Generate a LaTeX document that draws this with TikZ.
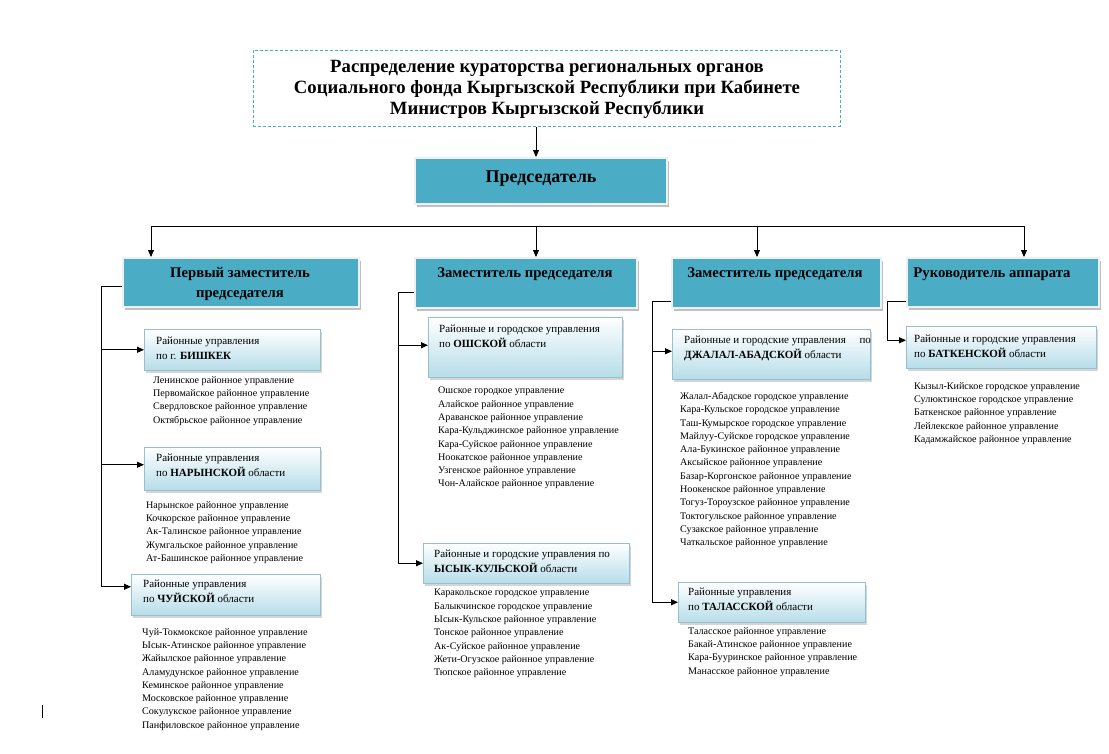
\documentclass[tikz,border=0pt]{standalone}
\usepackage{fontspec}
\setmainfont{Liberation Serif}
\usetikzlibrary{arrows.meta,shadows}
\definecolor{teal1}{RGB}{75,172,198}
\definecolor{subblue}{RGB}{182,221,233}
\definecolor{subedge}{RGB}{150,192,208}
\begin{document}
\begin{tikzpicture}[x=1pt,y=-1pt,
  line/.style={draw=black, line width=0.9pt},
  arr/.style={line, -{Triangle[length=7pt,width=6pt]}},
  titlebox/.style={draw=teal1, line width=0.7pt, dash pattern=on 3pt off 2pt, anchor=north west, inner sep=0pt},
  depbox/.style={fill=teal1, draw=gray!12, line width=1.5pt, anchor=north west, inner sep=0pt,
     drop shadow={shadow xshift=2.5pt, shadow yshift=-3pt, fill=gray!70, opacity=0.7}},
  subbox/.style={top color=white, bottom color=subblue, draw=subedge, line width=0.5pt, anchor=north west, inner sep=0pt,
     drop shadow={shadow xshift=1.5pt, shadow yshift=-2.5pt, fill=gray!55, opacity=0.6}},
  titletext/.style={font=\fontsize{18.7}{21}\selectfont\bfseries, align=center},
  deptext/.style={font=\fontsize{14.7}{19.5}\selectfont\bfseries, align=center},
  subtext/.style={font=\fontsize{11}{15}\selectfont, align=left, anchor=north west, inner sep=0pt},
  listtext/.style={font=\fontsize{10.1}{13.3}\selectfont, align=left, anchor=north west, inner sep=0pt},
]
\useasboundingbox[fill=white] (0,0) rectangle (1109,753);

% title and chairman
\node[titlebox, minimum width=587pt, minimum height=76pt] (title) at (253,50) {};
\node[titletext] (titlet) at (547,89) {Распределение кураторства региональных органов\\Социального фонда Кыргызской Республики при Кабинете\\Министров Кыргызской Республики};
\node[depbox, minimum width=252pt, minimum height=46pt] (chair) at (414,157) {};
\node[font=\fontsize{18}{20}\selectfont\bfseries] (chairt) at (541,179) {Председатель};

\coordinate (ta) at (536,0);
\draw[arr] (title.south -| ta) -- (chair.north -| ta);

% deputies
\node[depbox, minimum width=236pt, minimum height=49pt] (dep1) at (122,257) {};
\node[depbox, minimum width=222pt, minimum height=50pt] (dep2) at (414,257) {};
\node[depbox, minimum width=209pt, minimum height=50pt] (dep3) at (671,257) {};
\node[depbox, minimum width=192pt, minimum height=49pt] (dep4) at (906,257) {};
\node[deptext] (dep1t) at (240,284) {Первый заместитель\\председателя};
\node[deptext] (dep2t) at (525,274) {Заместитель председателя};
\node[deptext] (dep3t) at (775,274) {Заместитель председателя};
\node[deptext] (dep4t) at (992,274) {Руководитель аппарата};

\coordinate (h1) at (151,226);
\coordinate (h2) at (536,226);
\coordinate (h3) at (757,226);
\coordinate (h4) at (1024,226);
\draw[line] (h1) -- (h4);
\draw[arr] (h1) -- (h1 |- dep1.north);
\draw[arr] (h2) -- (h2 |- dep2.north);
\draw[arr] (h3) -- (h3 |- dep3.north);
\draw[arr] (h4) -- (h4 |- dep4.north);

% sub boxes
\node[subbox, minimum width=176pt, minimum height=41pt] (bish) at (144,329) {};
\node[subbox, minimum width=176pt, minimum height=43pt] (nar) at (144,447) {};
\node[subbox, minimum width=189pt, minimum height=41pt] (chuy) at (131,574) {};
\node[subbox, minimum width=194pt, minimum height=60pt] (osh) at (428,317) {};
\node[subbox, minimum width=206pt, minimum height=40pt] (issyk) at (423,543) {};
\node[subbox, minimum width=198pt, minimum height=50pt] (jal) at (672,329) {};
\node[subbox, minimum width=187pt, minimum height=40pt] (tal) at (678,582) {};
\node[subbox, minimum width=190pt, minimum height=42pt] (bat) at (906,326) {};

\node[subtext] (bisht) at (156,337) {Районные управления\\по г. \textbf{БИШКЕК}};
\node[subtext] (nart) at (156,454) {Районные управления\\по \textbf{НАРЫНСКОЙ} области};
\node[subtext] (chuyt) at (143,580) {Районные управления\\по \textbf{ЧУЙСКОЙ} области};
\node[subtext] (osht) at (439,325) {Районные и городское управления\\по \textbf{ОШСКОЙ} области};
\node[subtext] (issykt) at (434,550) {Районные и городские управления по\\\textbf{ЫСЫК-КУЛЬСКОЙ} области};
\node[subtext] (jalt) at (684,336) {Районные и городские управления\quad\ по\\\textbf{ДЖАЛАЛ-АБАДСКОЙ} области};
\node[subtext] (talt) at (688,588) {Районные управления\\по \textbf{ТАЛАССКОЙ} области};
\node[subtext] (batt) at (914,335) {Районные и городские управления\\по \textbf{БАТКЕНСКОЙ} области};

% lists
\node[listtext] (bishl) at (153,376) {Ленинское районное управление\\Первомайское районное управление\\Свердловское районное управление\\Октябрьское районное управление};
\node[listtext] (narl) at (146,501) {Нарынское районное управление\\Кочкорское районное  управление\\Ак-Талинское районное  управление\\Жумгальское районное управление\\Ат-Башинское районное управление};
\node[listtext] (chuyl) at (142,628) {Чуй-Токмокское районное управление\\Ысык-Атинское районное управление\\Жайылское районное управление\\Аламудунское районное управление\\Кеминское районное управление\\Московское районное управление\\Сокулукское районное управление\\Панфиловское районное управление};
\node[listtext] (oshl) at (438,387) {Ошское городкое управление\\Алайское районное управление\\Араванское районное управление\\Кара-Кульджинское районное управление\\Кара-Суйское районное управление\\Ноокатское районное управление\\Узгенское районное управление\\Чон-Алайское районное управление};
\node[listtext] (issykl) at (434,589) {Каракольское городское управление\\Балыкчинское городское управление\\Ысык-Кульское районное управление\\Тонское районное управление\\Ак-Суйское районное управление\\Жети-Огузское районное управление\\Тюпское районное управление};
\node[listtext] (jall) at (680,392) {Жалал-Абадское городское управление\\Кара-Кульское городское управление\\Таш-Кумырское городское управление\\Майлуу-Суйское городское управление\\Ала-Букинское районное управление\\Аксыйское районное управление\\Базар-Коргонское районное управление\\Ноокенское районное управление\\Тогуз-Тороузское районное управление\\Токтогульское районное управление\\Сузакское районное управление\\Чаткальское районное управление};
\node[listtext] (tall) at (688,627) {Таласское районное управление\\Бакай-Атинское районное управление\\Кара-Бууринское районное управление\\Манасское районное  управление};
\node[listtext] (batl) at (914,382) {Кызыл-Кийское городское  управление\\Сулюктинское городское управление\\Баткенское районное управление\\Лейлекское районное  управление\\Кадамжайское районное управление};

% column 1 connectors
\coordinate (c1t) at (101,286);
\coordinate (c1n) at ([yshift=4pt]nar.west);
\coordinate (c1c) at ([yshift=8pt]chuy.west);
\draw[line] (dep1.west |- c1t) -- (c1t) -- (c1t |- c1c);
\draw[arr] (c1t |- bish.west) -- (bish.west);
\draw[arr] (c1t |- c1n) -- (c1n);
\draw[arr] (c1t |- c1c) -- (c1c);

% column 2 connectors
\coordinate (c2t) at (398,292);
\coordinate (c2o) at ([yshift=2pt]osh.west);
\draw[line] (dep2.west |- c2t) -- (c2t) -- (c2t |- issyk.west);
\draw[arr] (c2t |- c2o) -- (c2o);
\draw[arr] (c2t |- issyk.west) -- (issyk.west);

% column 3 connectors
\coordinate (c3t) at (652,301);
\coordinate (c3j) at ([yshift=3pt]jal.west);
\draw[line] (dep3.west |- c3t) -- (c3t) -- (c3t |- tal.west);
\draw[arr] (c3t |- c3j) -- (c3j);
\draw[arr] (c3t |- tal.west) -- (tal.west);

% column 4 connectors
\coordinate (c4t) at (887,301);
\coordinate (c4b) at ([yshift=7pt]bat.west);
\draw[line] (dep4.west |- c4t) -- (c4t) -- (c4t |- c4b);
\draw[arr] (c4t |- c4b) -- (c4b);

% cursor mark
\coordinate (m1) at (42,705);
\coordinate (m2) at (42,718);
\draw[line width=0.8pt] (m1) -- (m2);
\end{tikzpicture}
\end{document}
